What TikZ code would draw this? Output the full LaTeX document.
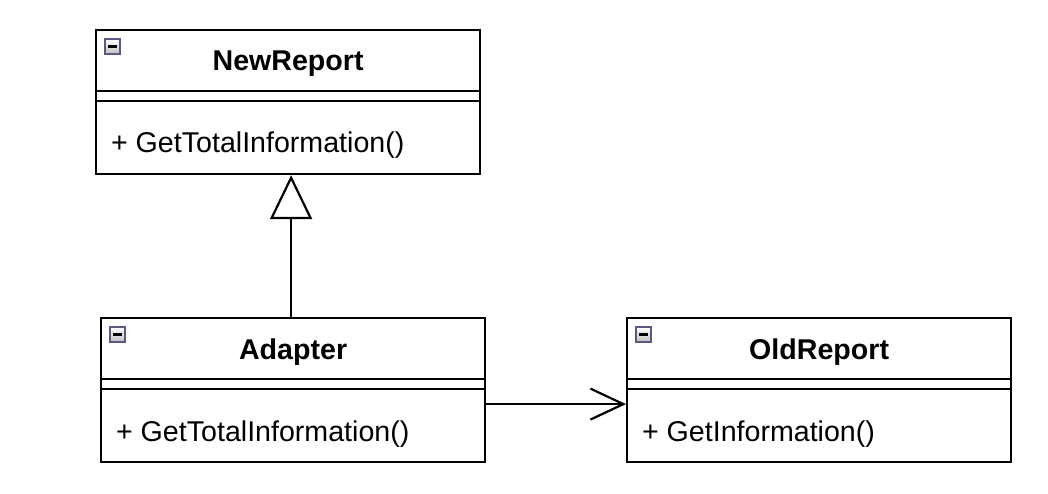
\documentclass[tikz,border=0pt]{standalone}
\usepackage{fontspec}
\setmainfont{Liberation Sans}
\usetikzlibrary{arrows.meta}
\begin{document}
\begin{tikzpicture}[x=1pt,y=-1pt,line width=2.2pt,
  classbox/.style={draw, rectangle, minimum width=384pt, minimum height=144pt, anchor=north west, inner sep=0pt},
  icon/.style={draw=black!45!blue!30!gray, line width=1.6pt, top color=white, bottom color=black!25, minimum width=15pt, minimum height=15pt, inner sep=0pt, outer sep=0pt, anchor=north west,
    path picture={\draw[black,line width=2.6pt] ([xshift=3pt]path picture bounding box.west) -- ([xshift=-3pt]path picture bounding box.east);}},
  ctitle/.style={font=\fontsize{28.6}{34}\selectfont\bfseries, anchor=base, inner sep=0pt},
  cmethod/.style={font=\fontsize{28.6}{34}\selectfont, anchor=base west, inner sep=0pt},
  divider/.style={line width=2.2pt},
]
\useasboundingbox (0,0) rectangle (1048,494);

% NewReport
\node[classbox] (nr) at (95,29) {};
\draw[divider] ([yshift=-62pt]nr.north west) -- ([yshift=-62pt]nr.north east);
\draw[divider] ([yshift=-72pt]nr.north west) -- ([yshift=-72pt]nr.north east);
\node[icon] (nri) at ([xshift=10pt,yshift=-10pt]nr.north west) {};
\node[ctitle] (nrt) at ([yshift=-42pt]nr.north) {NewReport};
\node[cmethod] (nrm) at ([xshift=15pt,yshift=-124pt]nr.north west) {+ GetTotalInformation()};

% Adapter
\node[classbox] (ad) at (100,317) {};
\draw[divider] ([yshift=-62pt]ad.north west) -- ([yshift=-62pt]ad.north east);
\draw[divider] ([yshift=-72pt]ad.north west) -- ([yshift=-72pt]ad.north east);
\node[icon] (adi) at ([xshift=10pt,yshift=-10pt]ad.north west) {};
\node[ctitle] (adt) at ([yshift=-42pt]ad.north) {Adapter};
\node[cmethod] (adm) at ([xshift=15pt,yshift=-124pt]ad.north west) {+ GetTotalInformation()};

% OldReport
\node[classbox] (or) at (626,317) {};
\draw[divider] ([yshift=-62pt]or.north west) -- ([yshift=-62pt]or.north east);
\draw[divider] ([yshift=-72pt]or.north west) -- ([yshift=-72pt]or.north east);
\node[icon] (ori) at ([xshift=10pt,yshift=-10pt]or.north west) {};
\node[ctitle] (ort) at ([yshift=-42pt]or.north) {OldReport};
\node[cmethod] (orm) at ([xshift=15pt,yshift=-124pt]or.north west) {+ GetInformation()};

% Connectors
\draw[-{Triangle[open,length=44pt,width=42pt]}, line join=miter] ([xshift=-2pt]ad.north) -- ([xshift=3pt]nr.south);
\draw[-{Straight Barb[length=33pt,width=31pt]}] ([yshift=-14pt]ad.east) -- ([yshift=-14pt]or.west);
\end{tikzpicture}
\end{document}
